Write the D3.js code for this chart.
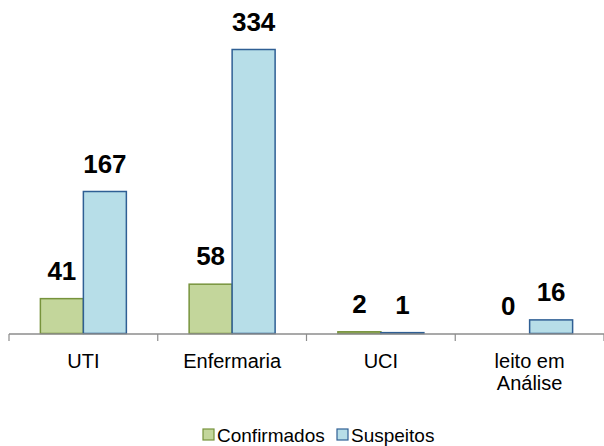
<!DOCTYPE html>
<html><head><meta charset="utf-8">
<script src="https://cdn.jsdelivr.net/npm/d3@7"></script>
<style>body{margin:0;background:#fff}svg{display:block}</style>
</head><body>
<script>
const categories = [["UTI"], ["Enfermaria"], ["UCI"], ["leito em", "Análise"]];
const seriesNames = ["Confirmados", "Suspeitos"];
const confirmados = [41, 58, 2, 0];
const suspeitos = [167, 334, 1, 16];
const fills = ["#C3D69B", "#B7DEE8"];
const strokes = ["#77933C", "#2F5F94"];

const W = 604, H = 446;
const svg = d3.select("body").append("svg").attr("width", W).attr("height", H);
const font = "'Liberation Sans', Arial, sans-serif";

const x0 = d3.scaleBand().domain(d3.range(categories.length)).range([9, 604]).paddingInner(0).paddingOuter(0);
const x1 = d3.scaleBand().domain([0, 1]).range([0, x0.bandwidth()]).paddingInner(0).paddingOuter(0.73);
const y = d3.scaleLinear().domain([0, 334]).range([333.5, 49.5]);

const series = [confirmados, suspeitos];

// bars
series.forEach((vals, s) => {
  svg.append("g").selectAll("rect").data(vals).join("rect")
    .attr("x", (d, i) => x0(i) + x1(s))
    .attr("y", d => y(d))
    .attr("width", x1.bandwidth())
    .attr("height", d => y(0) - y(d))
    .attr("fill", fills[s])
    .attr("stroke", d => d > 0 ? strokes[s] : "none")
    .attr("stroke-width", 1.5);
});

// axis
const ax = svg.append("g");
ax.append("line").attr("x1", 9).attr("x2", 604).attr("y1", 334).attr("y2", 334)
  .attr("stroke", "#8C8C8C").attr("stroke-width", 1.5);
d3.range(categories.length + 1).forEach(i => {
  const xx = i < categories.length ? x0(i) : 604;
  ax.append("line").attr("x1", xx).attr("x2", xx).attr("y1", 334).attr("y2", 341)
    .attr("stroke", "#8C8C8C").attr("stroke-width", 1.2);
});

// category labels
categories.forEach((lines, i) => {
  const t = svg.append("text").attr("font-family", font).attr("font-size", 20)
    .attr("text-anchor", "middle").attr("fill", "#000");
  lines.forEach((ln, j) => {
    t.append("tspan").attr("x", x0(i) + x0.bandwidth() / 2).attr("y", 368 + j * 22).text(ln);
  });
});

// value labels
series.forEach((vals, s) => {
  svg.append("g").selectAll("text").data(vals).join("text")
    .attr("x", (d, i) => x0(i) + x1(s) + x1.bandwidth() / 2)
    .attr("y", d => y(d) - 19)
    .attr("text-anchor", "middle")
    .attr("font-family", font).attr("font-size", 26).attr("font-weight", "bold")
    .attr("fill", "#000")
    .text(d => d);
});

// legend
const legX = [203, 337];
seriesNames.forEach((n, s) => {
  svg.append("rect").attr("x", legX[s]).attr("y", 429).attr("width", 11).attr("height", 11)
    .attr("fill", fills[s]).attr("stroke", strokes[s]).attr("stroke-width", 1.2);
  svg.append("text").attr("x", legX[s] + 14).attr("y", 442)
    .attr("font-family", font).attr("font-size", 19).attr("fill", "#000").text(n);
});
</script>
</body></html>
